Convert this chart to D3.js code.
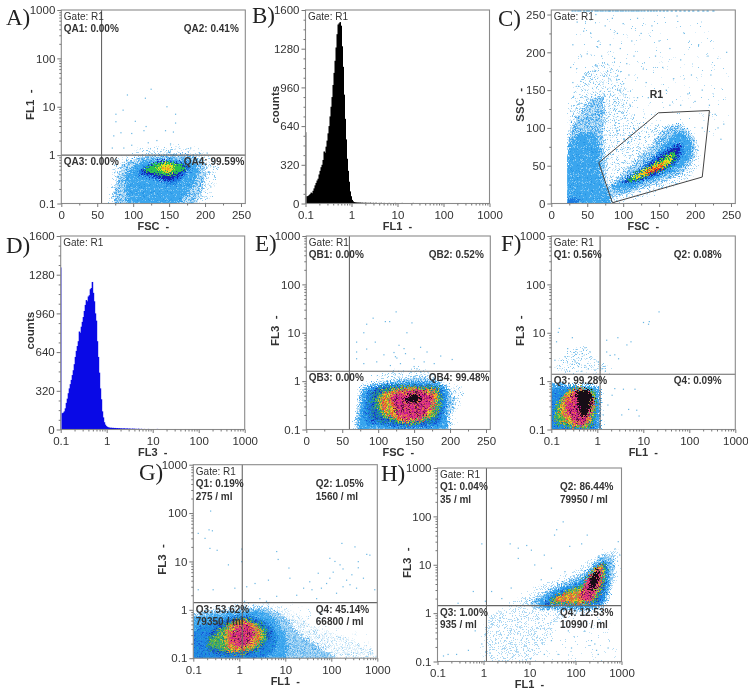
<!DOCTYPE html>
<html>
<head>
<meta charset="utf-8">
<script src="https://cdn.jsdelivr.net/npm/d3@7"></script>
<style>
html,body{margin:0;padding:0;background:#fff;}
svg{display:block;filter:blur(0.45px);}
text{font-family:"Liberation Sans",Arial,sans-serif;fill:#333;}
</style>
</head>
<body>
<svg id="chart" width="748" height="690"></svg>
<script>
// ---------- axis tick labels ----------
const logTicks = [0.1, 1, 10, 100, 1000];
const logTickLabels = ["0.1", "1", "10", "100", "1000"];
const scatterTicks = [0, 50, 100, 150, 200, 250];
const countTicks = [0, 320, 640, 960, 1280, 1600];
const logMinor = [0.2,0.3,0.4,0.5,0.6,0.7,0.8,0.9,2,3,4,5,6,7,8,9,20,30,40,50,60,70,80,90,200,300,400,500,600,700,800,900];
const scatterMinor = [25, 75, 125, 175, 225];
const countMinor = [80,160,240,400,480,560,720,800,880,1040,1120,1200,1360,1440,1520];

const histB = [590,60,62,70,78,90,85,105,125,150,170,190,205,240,270,300,320,360,430,420,470,520,580,640,720,800,880,980,1080,1180,1290,1400,1480,1490,1500,1470,1300,1130,900,700,530,370,270,180,100,60,30,18,12,
 10,9,8,8,7,8,6,7,6,5,7,6,5,6,4,7,5,4,6,3,5,6,3,4,5,3,6,3,0,5,4,3,0,4,5,3,0,3,4,0,5,3,0,4,3,0,3,5,0,4,0,3,0,4,3,0,3,0,5,0,3,0,3,4,0,0,3,0,4,0,3,0,3,0,0,4,0,3,0,3,0,0,3,0,4,0,0,3,0,3,0,4,0,0,3,0,3,0,0,4,0,3,0,0,3,0,3,0,4,0,0,3,0,3,0,0,3,0,4,0,3,0,0,3];
const histD = [1340,135,140,150,175,220,255,300,340,375,410,450,490,540,600,650,690,730,810,800,850,890,930,980,1030,1070,1060,1100,1110,1160,1170,1220,1130,1060,960,900,730,600,470,340,250,150,100,60,40,28,22,
 18,16,14,15,13,14,12,13,11,12,10,11,9,10,8,9,10,7,8,9,6,8,7,5,8,6,7,5,6,4,7,5,3,6,4,0,5,3,4,0,5,3,0,4,3,0,4,0,3,5,0,3,0,4,0,3,0,3,0,4,0,3,0,0,3,0,4,0,3,0,0,3,0,3,0,4,0,0,3,0,3,0,0,4,0,3,0,0,3,0,3,0,0,4,0,3,0,0,3];

// ---------- density outlines [density level, [[x, y], ...]] ----------
const contoursA = [
 [1,[[73,.08],[70,.3],[75,.67],[91,1],[114,1.37],[156,1.5],[189,1.27],[208,.92],[217,.49],[210,.19],[203,.117],[194,.08]]],
 [2,[[80,.08],[77,.3],[87,.67],[110,.92],[156,1.05],[189,.92],[201,.58],[198,.26],[189,.12],[180,.08]]],
 [3,[[92,.08],[89,.3],[98,.57],[119,.79],[161,.85],[187,.67],[189,.42],[182,.22],[168,.12],[147,.08],[110,.08]]],
 [4,[[105,.42],[118,.6],[138,.74],[170,.7],[180,.53],[172,.38],[156,.25],[138,.3],[118,.37]]],
 [5,[[112,.45],[124,.62],[142,.76],[168,.67],[175,.53],[161,.36],[149,.3],[133,.35]]],
 [6,[[115,.49],[131,.65],[147,.73],[166,.65],[173,.53],[156,.4],[138,.4]]],
 [7,[[133,.53],[142,.65],[154,.62],[156,.49],[147,.43]]],
 [8,[[142,.55],[149,.57],[153,.5],[147,.47]]]
];
const pointsA = [[92,17.5],[125,23],[117,15],[147,10],[86,8.5],[159,7],[76,7],[103,5],[76,4.9],[118,3.9],[159,4.6],[145,3.2],[83,2.9],[73,2.5],[98,2.8],[133,2],[156,3],[115,3.2],[71,1.4],[87,1.4],[98,1.6],[121,1.8],[152,1.7],[180,1.4],[203,1.1],[208,.22],[212,.57]];

const contoursC = [
 [0,[[24,93],[26,128],[34,200],[50,250],[120,250],[215,240],[245,160],[235,90],[205,100],[165,106],[124,106],[110,137],[90,100],[40,80]]],
 [1,[[24,93],[26,128],[40,163],[63,185],[86,185],[100,163],[110,137],[124,106],[165,106],[189,93],[203,79],[205,57],[189,31],[124,9],[82,-2],[22,-2]]],
 [2,[[22,-2],[22,70],[28,102],[40,119],[54,137],[72,141],[75,115],[72,84],[75,57],[77,22],[84,-2]]],
 [2,[[77,18],[100,40],[133,71],[156,97],[179,104],[198,88],[200,62],[179,38],[133,22],[86,9]]],
 [3,[[22,-2],[22,62],[28,84],[42,93],[61,93],[68,75],[68,49],[75,22],[82,-2]]],
 [3,[[82,22],[110,35],[142,62],[161,84],[179,95],[193,84],[193,62],[175,44],[138,31],[100,17]]],
 [4,[[22,-2],[22,5],[36,7],[41,2],[32,-2]]],
 [4,[[98,29],[119,42],[142,60],[165,75],[179,79],[183,68],[172,51],[147,38],[114,27]]],
 [5,[[102,28],[119,40],[142,55],[165,71],[177,77],[180,71],[170,53],[147,40],[114,29]]],
 [6,[[105,29],[121,41],[147,55],[168,68],[174,66],[168,53],[147,42],[114,30]]],
 [7,[[114,35],[133,46],[151,54],[165,62],[169,61],[161,51],[142,42],[121,34]]],
 [8,[[121,38],[138,46],[154,53],[161,55],[156,49],[138,41]]],
 [9,[[133,42],[145,46],[155,51],[151,45],[138,40]]]
];
const pointsC = [[30,210],[36,240],[45,228],[50,198],[55,225],[62,250],[66,215],[70,195],[75,235],[82,210],[85,245],[88,192],[92,225],[96,205],[100,238],[105,185],[108,170],[112,215],[115,195],[120,245],[125,225],[128,178],[132,160],[140,235],[145,195],[150,215],[155,180],[160,150],[165,205],[170,165],[175,248],[180,190],[185,225],[190,145],[195,170],[200,135],[205,210],[210,150],[218,195],[222,170],[228,118],[232,100],[240,105],[244,200],[210,100],[220,130],[236,85],[180,130],[165,130],[135,140],[120,140],[110,130],[98,120],[95,150],[88,135],[80,165],[60,175],[48,170],[38,155],[30,160],[27,180],[42,195]];
const topRowC = [28,32,36,39,44,48,51,55,60,63,67,70,74,78,80,84,88,91,95,98,102,106,110,113,117,120,124,128,133,137,141,145,150,155,160,166,172,178,184,190,196,203,210,216,224];
const topRowSSC = 255;
const gateC = [[66,54],[149,120],[220,123],[210,35],[85,1]];
const leftLimitC = 22;

const contoursE = [
 [1,[[73,.08],[70,.27],[75,.71],[94,1.23],[131,1.7],[173,1.55],[196,.97],[215,.71],[215,.37],[206,.2],[196,.08]]],
 [2,[[75,.08],[74,.37],[77,.71],[108,.95],[164,1.23],[189,.89],[201,.6],[206,.32],[196,.14],[192,.08]]],
 [3,[[80,.08],[77,.44],[82,.71],[108,.89],[168,.97],[196,.71],[196,.23],[189,.08]]],
 [4,[[84,.14],[82,.44],[91,.71],[117,.83],[168,.85],[192,.65],[192,.23],[182,.12],[131,.11]]],
 [5,[[91,.17],[88,.44],[98,.71],[122,.8],[173,.8],[188,.65],[188,.27],[178,.14],[131,.12]]],
 [6,[[101,.23],[98,.47],[108,.65],[131,.76],[173,.74],[186,.6],[185,.29],[175,.17],[145,.13],[117,.16]]],
 [8,[[103,.27],[104,.47],[115,.63],[145,.71],[173,.68],[182,.55],[179,.32],[168,.18],[140,.14],[117,.18]]],
 [9,[[122,.32],[119,.47],[131,.6],[159,.63],[175,.51],[171,.27],[159,.17],[140,.16],[126,.2]]],
 [10,[[138,.4],[145,.51],[157,.51],[159,.4],[150,.36]]]
];
const pointsE = [[93,20],[125,27],[110,17],[116,17],[84,15],[147,16],[80,10],[140,10],[70,6.4],[96,6.4],[129,5.5],[159,5],[70,4],[84,4.6],[108,3.5],[124,3.2],[136,4.7],[122,3.9],[138,3.7],[168,4],[187,3.3],[203,2.8],[70,2.9],[80,2.3],[98,2.5],[117,2.1],[131,2.3],[150,2.9],[164,2.5],[178,2.3],[150,2],[154,1.8],[126,3],[145,1.55],[159,1.55]];

const contoursF = [
 [1,[[.12,1.6],[.18,3.3],[.45,5],[.9,3.3],[1.7,2],[1.4,1.5]]],
 [3,[[.09,.09],[.09,.8],[.277,.83],[.9,.79],[1.15,.6],[1.15,.17],[.97,.09]]],
 [4,[[.09,.09],[.09,.51],[.142,.7],[.33,.76],[.82,.65],[1.02,.37],[.97,.144],[.76,.09]]],
 [6,[[.12,.144],[.142,.37],[.277,.7],[.76,.68],[.94,.37],[.86,.183],[.64,.105],[.277,.108]]],
 [8,[[.154,.214],[.183,.44],[.277,.68],[.7,.65],[.86,.37],[.76,.183],[.54,.114],[.277,.123]]],
 [9,[[.216,.25],[.255,.51],[.356,.65],[.7,.62],[.78,.37],[.7,.2],[.5,.123],[.33,.144]]],
 [10,[[.33,.51],[.4,.63],[.59,.65],[.76,.51],[.7,.294],[.56,.183],[.47,.183],[.387,.294]]]
];
const pointsF = [[.149,12.3],[.142,10.2],[.287,7.9],[.13,6.5],[.227,4.7],[.54,4.9],[1.6,7],[2.8,7.9],[4.4,5.6],[5.4,6.5],[10.1,16.3],[13,15],[13.5,17],[22,27],[.12,2.7],[.2,3.2],[.33,2.5],[.47,3.7],[.7,4],[1.6,4],[1.9,3.4],[2.4,3.5],[2.9,2.9],[1.05,2.5],[.39,2],[.54,2.1],[.64,1.8],[.89,1.7],[.46,1.6],[.25,1.6],[1.2,1.8],[1.5,1.6],[2.4,.7],[3.7,.68],[6.6,.68],[2.1,.51],[1.7,.32],[1.35,.2],[4.8,.26],[7.2,.25],[3.4,.2],[8.1,.19]];

const contoursG = [
 [0,[[.09,.09],[.09,.92],[.63,1.3],[4.6,1.48],[24.6,1.26],[131,.57],[960,.22],[960,.09]]],
 [1,[[.09,.09],[.09,.85],[.63,1.15],[3.3,1.3],[12,1],[34,.5],[131,.3],[600,.16],[600,.09]]],
 [2,[[.09,.09],[.09,.72],[.63,1],[3.3,1.1],[9,.75],[22,.3],[60,.16],[90,.09]]],
 [3,[[.09,.09],[.09,.57],[.45,.85],[3.3,.92],[7.6,.49],[10.7,.22],[7.6,.09]]],
 [4,[[.09,.097],[.103,.355],[.27,.57],[1.22,.78],[3.9,.57],[6.5,.3],[5.5,.137],[2.4,.097]]],
 [5,[[.23,.137],[.21,.26],[.38,.53],[1.22,.73],[3.3,.53],[4.6,.3],[3.3,.174],[1.45,.117],[.63,.117]]],
 [6,[[.21,.2],[.45,.45],[1.22,.67],[3.1,.45],[3.8,.28],[2.4,.16],[.87,.127],[.38,.148]]],
 [8,[[.47,.22],[.53,.42],[1.22,.62],[2.6,.42],[3.1,.26],[1.85,.16],[.87,.137],[.58,.148]]],
 [9,[[.63,.28],[.87,.45],[1.45,.53],[2.2,.355],[1.85,.22],[1.22,.174],[.74,.19]]]
];
const pointsG = [[.238,110],[.22,45],[.128,38],[.26,43],[.18,30],[.23,18.6],[.33,17],[.58,8.5],[1.13,18],[1.13,9.9],[6.5,16],[12,7.3],[7,11],[170,23.6],[327,20],[590,14],[690,13.5],[93,11.6],[386,7.4],[386,9.9],[180,7],[52,5.7],[110,6],[215,4.1],[500,4.5],[34,3.8],[79,3.5],[25,2.8],[12.6,4.5],[4.3,4.1],[1.45,3],[2.2,3.5],[.128,2.6],[.27,2.6],[.8,2.8],[130,2.2],[354,2.8],[880,2.6],[48,1.7],[17.7,2],[6.5,1.9],[2.8,1.7],[3.9,1.5],[1.3,1.5],[255,3.3],[180,3],[93,4.5],[61,2.8],[38,2.6],[280,5.3],[155,8.5],[120,10]];

const contoursH = [
 [0,[[7.9,.08],[42,.68],[312,1.09],[600,.5],[900,.08]]],
 [1,[[1.08,.08],[1.18,.68],[2.95,1.28],[13.2,3.3],[82,7.2],[312,15.8],[850,21],[920,8.5],[436,2.05],[312,1.09],[42,.68],[18.3,.19],[7.9,.08]]],
 [2,[[11.1,1.76],[30,3.3],[160,7.2],[368,15.8],[716,13.5],[605,3.9],[368,1.28],[30,1.18],[13.2,1.28]]],
 [3,[[15.5,1.62],[35,3],[136,5.3],[312,11.6],[512,11.6],[512,3.3],[312,1.39],[21.7,1.32]]],
 [4,[[19.9,1.5],[35,2.6],[136,4.5],[263,9.2],[472,10.7],[472,3.6],[287,1.5],[25.6,1.39]]],
 [5,[[23.5,1.62],[42,2.4],[136,3.9],[243,7.8],[436,11.2],[436,3.9],[263,1.62],[30,1.45]]],
 [6,[[27.7,1.76],[50,2.6],[125,3.6],[223,7.2],[400,10.7],[436,5.3],[243,1.7],[35,1.5]]],
 [8,[[33,1.9],[54,2.5],[125,3],[206,6.2],[368,9.9],[380,4.9],[223,1.8],[50,1.62]]],
 [9,[[125,2.05],[136,2.8],[206,5.8],[338,8.7],[368,5.3],[243,2.05],[160,1.76]]],
 [10,[[189,3],[223,5.3],[312,8.2],[322,5.3],[243,3]]]
];
const pointsH = [[39,53],[54,77],[180,41],[35,41],[3.8,27],[8.7,25],[5.7,22],[11,20],[.92,27],[.1,38],[.6,2.8],[.28,1.6],[5.7,13.5],[21,15.8],[75,24],[136,27],[13,9.9],[30,8.5],[850,30],[920,15.8],[716,21],[59,7.2],[18,4.9],[4,3.3],[2.5,2],[1.5,2.8],[1.1,1.76],[.135,.13],[.17,.14],[.26,.14],[.47,.17],[.92,.23],[1.08,.36],[.66,.43],[263,.23],[287,.17],[223,.27],[160,.42],[115,.58],[82,.19],[42,.14],[512,.19],[21,.14],[9.4,.17],[30,.27],[70,.43],[312,.14]];

// ---------- quadrant gates [x, y] and their texts ----------
const gateA = [56, 1.0], gateE = [60, 1.6], gateF = [1.15, 1.39], gateG = [1.16, 1.41], gateH = [1.16, 1.43];
const textsA = ["QA1: 0.00%", "QA2: 0.41%", "QA3: 0.00%", "QA4: 99.59%"];
const textsE = ["QB1: 0.00%", "QB2: 0.52%", "QB3: 0.00%", "QB4: 99.48%"];
const textsF = ["Q1: 0.56%", "Q2: 0.08%", "Q3: 99.28%", "Q4: 0.09%"];
const textsG = ["Q1: 0.19%", "Q2: 1.05%", "Q3: 53.62%", "Q4: 45.14%"];
const textsH = ["Q1: 0.04%", "Q2: 86.44%", "Q3: 1.00%", "Q4: 12.53%"];
const perMlG = ["275 / ml", "1560 / ml", "79350 / ml", "66800 / ml"];
const perMlH = ["35 / ml", "79950 / ml", "935 / ml", "10990 / ml"];

// ---------- drawing ----------
const svg = d3.select("#chart");
const defs = svg.append("defs");
const W = 184, H = 193.5;

// speckle look of the density clouds (appearance only)
const rough = defs.append("filter").attr("id", "rough").attr("x", "-10%").attr("y", "-10%").attr("width", "120%").attr("height", "120%");
rough.append("feTurbulence").attr("type", "fractalNoise").attr("baseFrequency", 0.75).attr("numOctaves", 2).attr("seed", 4).attr("result", "n");
rough.append("feDisplacementMap").attr("in", "SourceGraphic").attr("in2", "n").attr("scale", 13)
  .attr("xChannelSelector", "R").attr("yChannelSelector", "G");

function stipple(id, size, bg, count, colors) {
  const p = defs.append("pattern").attr("id", id).attr("patternUnits", "userSpaceOnUse")
    .attr("width", size).attr("height", size);
  if (bg) p.append("rect").attr("width", size).attr("height", size).attr("fill", bg);
  d3.range(count).forEach(k => {
    p.append("rect")
      .attr("x", Math.floor(((k * 0.7548777) % 1) * size))
      .attr("y", Math.floor(((k * 0.5698403 + 0.37) % 1) * size))
      .attr("width", 1).attr("height", 1)
      .attr("fill", colors[k % colors.length]);
  });
}
stipple("s0", 23, null, 7, ["#5cb2e6", "#86c6ec"]);
stipple("s1", 11, null, 14, ["#4aaae6", "#79c0ec"]);
stipple("s2", 9, "#cfe8f8", 36, ["#2f9bea", "#55b0ee"]);
stipple("s3", 7, "#3ba6ee", 7, ["#a8d8f6", "#1f8fe4"]);
stipple("b4", 7, "#1f84e4", 12, ["#1238c8", "#40a8ea", "#18b0c0"]);
stipple("t5", 7, "#1a60c8", 20, ["#1aa888", "#101fb4", "#30b860", "#1f84e4"]);
stipple("mg", 7, "#38b850", 20, ["#e0d820", "#1d7fd0", "#f09020", "#106898"]);
stipple("mo", 7, "#e8a428", 22, ["#d8208f", "#30b850", "#f0e030", "#e03020"]);
stipple("mm", 7, "#d82494", 22, ["#f09020", "#2a1020", "#f05a60", "#a01870"]);

const smoothFill = {0:"url(#s0)",1:"url(#s1)",2:"url(#s2)",3:"url(#s3)",4:"#1a7ae0",5:"#1620b8",6:"#2cc050",7:"#e6e020",8:"#f59a20",9:"#e8341c",10:"#111"};
const mixedFill = {0:"url(#s0)",1:"url(#s1)",2:"url(#s2)",3:"url(#s3)",4:"url(#b4)",5:"url(#t5)",6:"url(#mg)",7:"#e6e020",8:"url(#mo)",9:"url(#mm)",10:"#141014"};

const fsc = r => d3.scaleLinear().domain([0, 256]).range(r);
const log4 = r => d3.scaleLog().domain([0.1, 1000]).range(r);
const cnt = r => d3.scaleLinear().domain([0, 1600]).range(r);

function drawAxes(g, x, y, xT, xL, xM, yT, yL, yM) {
  const fmt = labels => (d, i) => labels[i];
  const axes = [
    [d3.axisBottom(x).tickValues(xM).tickFormat("").tickSize(2), `translate(0,${H})`],
    [d3.axisLeft(y).tickValues(yM).tickFormat("").tickSize(2), null],
    [d3.axisBottom(x).tickValues(xT).tickFormat(fmt(xL)).tickSize(3.5).tickPadding(4), `translate(0,${H})`],
    [d3.axisLeft(y).tickValues(yT).tickFormat(fmt(yL)).tickSize(4).tickPadding(2), null]
  ];
  axes.forEach(([ax, tr]) => {
    const s = g.append("g").call(ax);
    if (tr) s.attr("transform", tr);
    s.selectAll("path").remove();
    s.selectAll("line").attr("stroke", "#777");
    s.selectAll("text").attr("font-size", 11.5).attr("font-family", "Liberation Sans").attr("fill", "#333");
  });
}

function frame(g) {
  g.append("rect").attr("width", W).attr("height", H).attr("fill", "none")
    .attr("stroke", "#8a8a8a").attr("stroke-width", 1.1);
}

function titles(g, xTitle, yTitle) {
  g.append("text").attr("x", W / 2).attr("y", H + 26.5).attr("text-anchor", "middle")
    .attr("font-size", 11).attr("font-weight", "bold").style("white-space", "pre").text(xTitle);
  g.append("text").attr("transform", `translate(-27,${H / 2 - 2}) rotate(-90)`).attr("text-anchor", "middle")
    .attr("font-size", 11.5).attr("font-weight", "bold").style("white-space", "pre").text(yTitle);
}

function letter(txt, x, y) {
  svg.append("text").attr("x", x).attr("y", y).attr("font-size", 23).style("font-family", "'Liberation Serif',serif")
    .style("fill", "#222").text(txt);
}

function gateText(g) {
  g.append("text").attr("x", 2.5).attr("y", 10).attr("font-size", 10).text("Gate: R1");
}

function scatterPanel(cfg) {
  const g = svg.append("g").attr("transform", `translate(${cfg.left},${cfg.top})`);
  const x = cfg.x([0, W]), y = cfg.y([H, 0]);
  const clip = "clip" + cfg.id;
  const x0 = cfg.leftLimit ? x(cfg.leftLimit) : 0;
  defs.append("clipPath").attr("id", clip).append("rect").attr("x", x0).attr("width", W - x0).attr("height", H);
  const body = g.append("g").attr("clip-path", `url(#${clip})`);
  const line = d3.line().x(d => x(d[0])).y(d => y(d[1])).curve(d3.curveCardinalClosed.tension(0.25));
  const fills = cfg.mixed ? mixedFill : smoothFill;
  body.append("g").attr("filter", "url(#rough)")
    .selectAll("path.density").data(cfg.contours).join("path").attr("class", "density")
    .attr("d", d => line(d[1])).attr("fill", d => fills[d[0]]);
  body.selectAll("rect.pt").data(cfg.points).join("rect").attr("class", "pt")
    .attr("x", d => x(d[0]) - .6).attr("y", d => y(d[1]) - .6).attr("width", 1.2).attr("height", 1.2)
    .attr("fill", "#4fa9de").attr("opacity", .85);
  if (cfg.extra) cfg.extra(g, body, x, y);
  if (cfg.gate) {
    g.append("line").attr("x1", x(cfg.gate[0])).attr("x2", x(cfg.gate[0])).attr("y1", 0).attr("y2", H)
      .attr("stroke", "#666").attr("stroke-width", 1.1);
    g.append("line").attr("x1", 0).attr("x2", W).attr("y1", y(cfg.gate[1])).attr("y2", y(cfg.gate[1]))
      .attr("stroke", "#666").attr("stroke-width", 1.1);
  }
  frame(g);
  drawAxes(g, x, y, cfg.xT, cfg.xL, cfg.xM, cfg.yT, cfg.yL, cfg.yM);
  gateText(g);
  titles(g, cfg.xTitle, cfg.yTitle);
  if (cfg.texts) {
    const yq = y(cfg.gate[1]);
    const bold = (t, tx, ty) => g.append("text").attr("x", tx).attr("y", ty).attr("font-size", 10).attr("font-weight", "bold").text(t);
    bold(cfg.texts[0], 2.5, 22); bold(cfg.texts[1], 122.5, 22);
    bold(cfg.texts[2], 2.5, yq + 10); bold(cfg.texts[3], 122.5, yq + 10);
    if (cfg.perMl) {
      bold(cfg.perMl[0], 2.5, 35); bold(cfg.perMl[1], 122.5, 35);
      bold(cfg.perMl[2], 2.5, yq + 22.5); bold(cfg.perMl[3], 122.5, yq + 22.5);
    }
  }
}

function histPanel(cfg) {
  const g = svg.append("g").attr("transform", `translate(${cfg.left},${cfg.top})`);
  const x = log4([0, W]), y = cnt([H, 0]);
  const decadesPerBin = 4 / 184;
  const edge = i => 0.1 * Math.pow(10, i * decadesPerBin);
  g.selectAll("rect.bar").data(cfg.values).join("rect").attr("class", "bar")
    .attr("x", (d, i) => x(edge(i)))
    .attr("width", (d, i) => i === 0 ? 1 : x(edge(i + 1)) - x(edge(i)) + .5)
    .attr("y", d => y(d)).attr("height", d => H - y(d))
    .attr("fill", cfg.color).attr("opacity", (d, i) => i === 0 ? .6 : 1);
  frame(g);
  drawAxes(g, x, y, logTicks, logTickLabels, logMinor, countTicks, countTicks.map(String), countMinor);
  gateText(g);
  titles(g, cfg.xTitle, cfg.yTitle);
}

const scatterLabels = scatterTicks.map(String);
const fscAxis = {x: fsc, xT: scatterTicks, xL: scatterLabels, xM: scatterMinor, xTitle: "FSC  -"};
const logX = {x: log4, xT: logTicks, xL: logTickLabels, xM: logMinor, xTitle: "FL1  -"};
const logY = {y: log4, yT: logTicks, yL: logTickLabels, yM: logMinor};

scatterPanel({id:"A", left:61.3, top:10, ...fscAxis, ...logY, yTitle:"FL1  -", contours:contoursA, points:pointsA, gate:gateA, texts:textsA});
histPanel({left:305.5, top:10, values:histB, color:"#000", xTitle:"FL1  -", yTitle:"counts"});
scatterPanel({id:"C", left:551.3, top:10, ...fscAxis, y: fsc, yT:scatterTicks, yL:scatterLabels, yM:scatterMinor, yTitle:"SSC  -",
  contours:contoursC, points:pointsC, leftLimit:leftLimitC,
  extra:(g, body, x, y) => {
    body.selectAll("rect.top").data(topRowC).join("rect").attr("class","top")
      .attr("x", d => x(d)).attr("y", y(topRowSSC) - .5).attr("width", 2.2).attr("height", 1.3).attr("fill", "#4fa9de");
    g.append("path").attr("d", d3.line().x(d => x(d[0])).y(d => y(d[1])).curve(d3.curveLinearClosed)(gateC))
      .attr("fill", "none").attr("stroke", "#444").attr("stroke-width", 1);
    g.append("text").attr("x", x(137)).attr("y", y(140)).attr("font-size", 10.5).attr("font-weight", "bold").text("R1");
  }});
histPanel({left:60.7, top:236, values:histD, color:"#0a0ae6", xTitle:"FL3  -", yTitle:"counts"});
scatterPanel({id:"E", left:306.3, top:236, ...fscAxis, ...logY, yTitle:"FL3  -", mixed:true, contours:contoursE, points:pointsE, gate:gateE, texts:textsE});
scatterPanel({id:"F", left:551.3, top:236, ...logX, ...logY, yTitle:"FL3  -", mixed:true, contours:contoursF, points:pointsF, gate:gateF, texts:textsF});
scatterPanel({id:"G", left:193.3, top:464.7, ...logX, ...logY, yTitle:"FL3  -", mixed:true, contours:contoursG, points:pointsG, gate:gateG, texts:textsG, perMl:perMlG});
scatterPanel({id:"H", left:437.5, top:468, ...logX, ...logY, yTitle:"FL3  -", mixed:true, contours:contoursH, points:pointsH, gate:gateH, texts:textsH, perMl:perMlH});

letter("A)", 6, 25); letter("B)", 252, 23); letter("C)", 498, 26);
letter("D)", 6, 253); letter("E)", 255, 251); letter("F)", 501, 251);
letter("G)", 139, 480); letter("H)", 381, 481);
</script>
</body>
</html>
